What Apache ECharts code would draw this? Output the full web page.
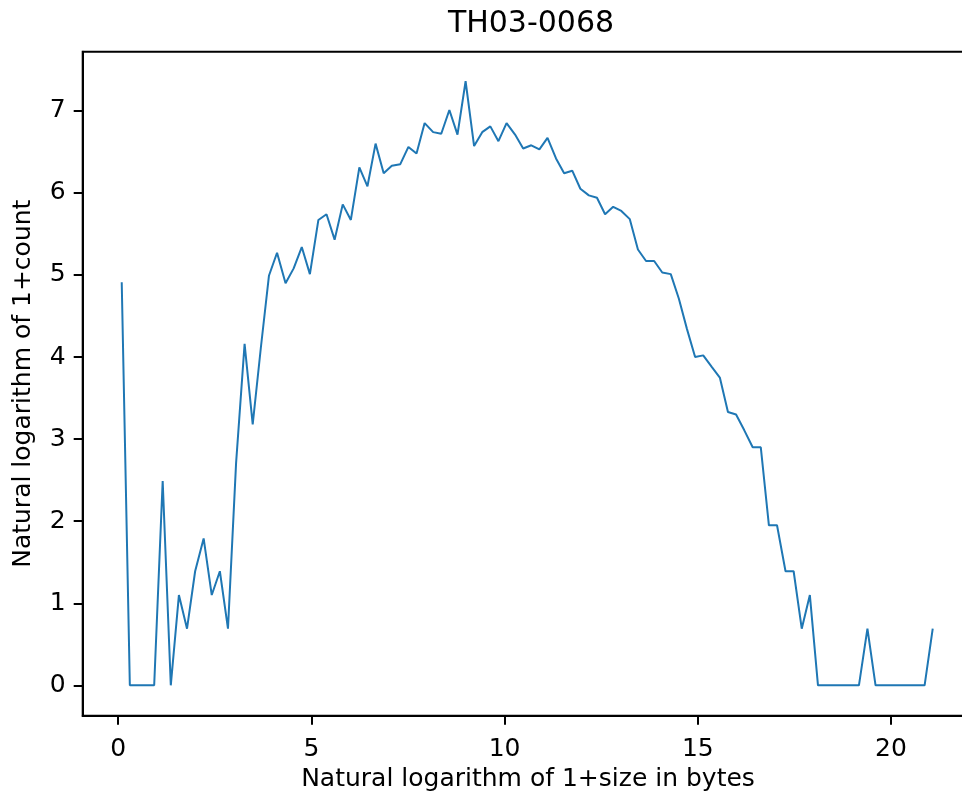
<!DOCTYPE html>
<html>
<head>
<meta charset="utf-8">
<script src="https://cdn.jsdelivr.net/npm/echarts@6/dist/echarts.min.js"></script>
<style>
html,body{margin:0;padding:0;background:#fff;}
#c{width:962px;height:798px;}
</style>
</head>
<body>
<div id="c"></div>
<script>
var titleText = 'TH03-0068';
var xLabel = 'Natural logarithm of 1+size in bytes';
var yLabel = 'Natural logarithm of 1+count';
var xTicks = [0, 5, 10, 15, 20];
var yTicks = [0, 1, 2, 3, 4, 5, 6, 7];
var sizes = [0.09,0.30,0.51,0.72,0.93,1.15,1.36,1.57,1.78,1.99,
  2.21,2.42,2.63,2.84,3.05,3.27,3.48,3.69,3.90,4.11,
  4.33,4.54,4.75,4.96,5.18,5.39,5.60,5.81,6.02,6.24,
  6.45,6.66,6.87,7.08,7.30,7.51,7.72,7.93,8.15,8.36,
  8.57,8.78,8.99,9.21,9.42,9.63,9.84,10.05,10.27,10.48,
  10.69,10.90,11.11,11.33,11.54,11.75,11.96,12.18,12.39,12.60,
  12.81,13.02,13.24,13.45,13.66,13.87,14.08,14.30,14.51,14.72,
  14.93,15.14,15.36,15.57,15.78,15.99,16.20,16.42,16.63,16.84,
  17.05,17.27,17.48,17.69,17.90,18.11,18.33,18.54,18.75,18.96,
  19.17,19.39,19.60,19.81,20.02,20.24,20.45,20.66,20.87,21.08];
var counts = [4.91,0,0,0,0,2.49,0,1.10,0.69,1.39,
  1.79,1.10,1.39,0.69,2.71,4.16,3.18,4.11,4.99,5.27,
  4.90,5.08,5.34,5.01,5.67,5.74,5.43,5.86,5.67,6.31,
  6.08,6.60,6.24,6.33,6.35,6.56,6.48,6.85,6.74,6.72,
  7.01,6.71,7.36,6.57,6.74,6.81,6.63,6.85,6.71,6.54,
  6.58,6.53,6.67,6.42,6.24,6.27,6.05,5.97,5.94,5.74,
  5.83,5.78,5.68,5.31,5.17,5.17,5.03,5.01,4.71,4.34,
  4.00,4.02,3.88,3.75,3.33,3.30,3.11,2.90,2.90,1.95,
  1.95,1.39,1.39,0.69,1.10,0,0,0,0,0,
  0,0.69,0,0,0,0,0,0,0,0.69];

var pts = sizes.map(function (x, i) { return [x, counts[i]]; });
var font = 'DejaVu Sans';
var chart = echarts.init(document.getElementById('c'), null, {renderer: 'canvas'});
chart.setOption({
  animation: false,
  backgroundColor: '#fff',
  title: {
    text: titleText,
    left: 526,
    top: 4,
    textAlign: 'center',
    textStyle: {fontFamily: font, fontSize: 30, fontWeight: 'normal', color: '#000'}
  },
  grid: {
    left: 82.7, width: 890.6, top: 51.7, height: 664,
    containLabel: false,
    outerBoundsMode: 'none',
    show: true, borderColor: '#000', borderWidth: 2, backgroundColor: 'transparent'
  },
  xAxis: {
    type: 'value',
    min: -0.92, max: 22.13,
    name: xLabel,
    nameLocation: 'middle',
    nameGap: 50,
    nameTextStyle: {fontFamily: font, fontSize: 25, color: '#000'},
    axisLine: {show: true, onZero: false, lineStyle: {color: '#000', width: 2}},
    axisTick: {show: true, inside: false, length: 9, customValues: xTicks, lineStyle: {color: '#000', width: 2}},
    axisLabel: {customValues: xTicks, margin: 21, fontFamily: font, fontSize: 25, color: '#000'},
    splitLine: {show: false}
  },
  yAxis: {
    type: 'value',
    min: -0.37, max: 7.72,
    name: yLabel,
    nameLocation: 'middle',
    nameRotate: 90,
    nameGap: 47,
    nameTextStyle: {fontFamily: font, fontSize: 25, color: '#000'},
    axisLine: {show: true, onZero: false, lineStyle: {color: '#000', width: 2}},
    axisTick: {show: true, inside: false, length: 9, customValues: yTicks, lineStyle: {color: '#000', width: 2}},
    axisLabel: {customValues: yTicks, margin: 17, fontFamily: font, fontSize: 25, color: '#000'},
    splitLine: {show: false}
  },
  series: [{
    type: 'line',
    data: pts,
    showSymbol: false,
    symbol: 'none',
    lineStyle: {color: '#1f77b4', width: 2},
    clip: true
  }]
});
</script>
</body>
</html>
